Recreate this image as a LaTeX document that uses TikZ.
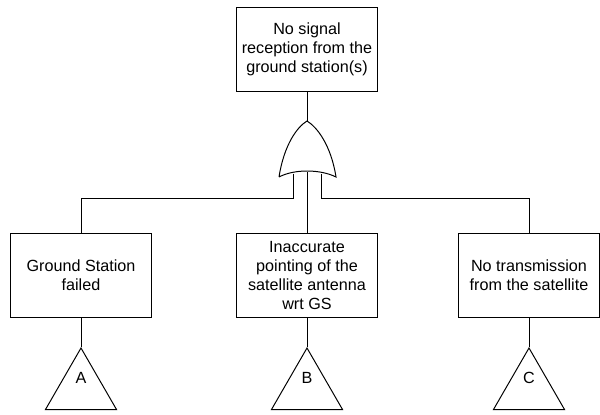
\documentclass[tikz,border=0pt]{standalone}
\usepackage{fontspec}
\setmainfont{Liberation Sans}
\usepackage{tikz}
\usetikzlibrary{positioning,shapes,shapes.geometric}

\begin{document}
\begin{tikzpicture}[x=0.025cm, y=-0.025cm, line width=0.7pt,
  every event/.style={draw, rectangle, align=center, minimum width=3.525cm,
    minimum height=2.1cm, inner sep=2pt, font=\fontsize{11.5}{13.3}\selectfont},
  every transfer/.style={draw, regular polygon, regular polygon sides=3,
    minimum size=2.05cm, inner sep=0pt}]

\useasboundingbox (0,0) rectangle (600,415);

% top event
\node [every event/.try] (top) at (307,49.5) {No signal\\reception from the\\ground station(s)};

% or gate
\draw (279,177) .. controls (284,145) and (297,127) .. (307,121)
  .. controls (317,127) and (331,145) .. (336,177)
  .. controls (320,169) and (294,169) .. (279,177);
\coordinate (gate-out) at (307,121);
\coordinate (gate-in-1) at (293,173.5);
\coordinate (gate-in-2) at (307,172);
\coordinate (gate-in-3) at (321,173.5);

% basic events and transfers
\foreach \t/\x/\l [count=\i] in {{Ground Station\\failed}/81/A,
    {Inaccurate\\pointing of the\\satellite antenna\\wrt GS}/307/B,
    {No transmission\\from the satellite}/529/C}
{
  \node [every event/.try] (event-\i) at (\x,275.5) {\t};
  \node [every transfer/.try] (transfer-\i) at (\x,389) {};
  \node (letter-\i) at ([yshift=0.275cm]transfer-\i.center) {\fontsize{11.5}{13.3}\selectfont\l};
  \draw (event-\i) -- (transfer-\i.corner 1);
}

\draw (top) -- (gate-out);
\draw (gate-in-1) -- ++(0,24.5) -| (event-1);
\draw (gate-in-2) -- (event-2);
\draw (gate-in-3) -- ++(0,24.5) -| (event-3);

\end{tikzpicture}
\end{document}
